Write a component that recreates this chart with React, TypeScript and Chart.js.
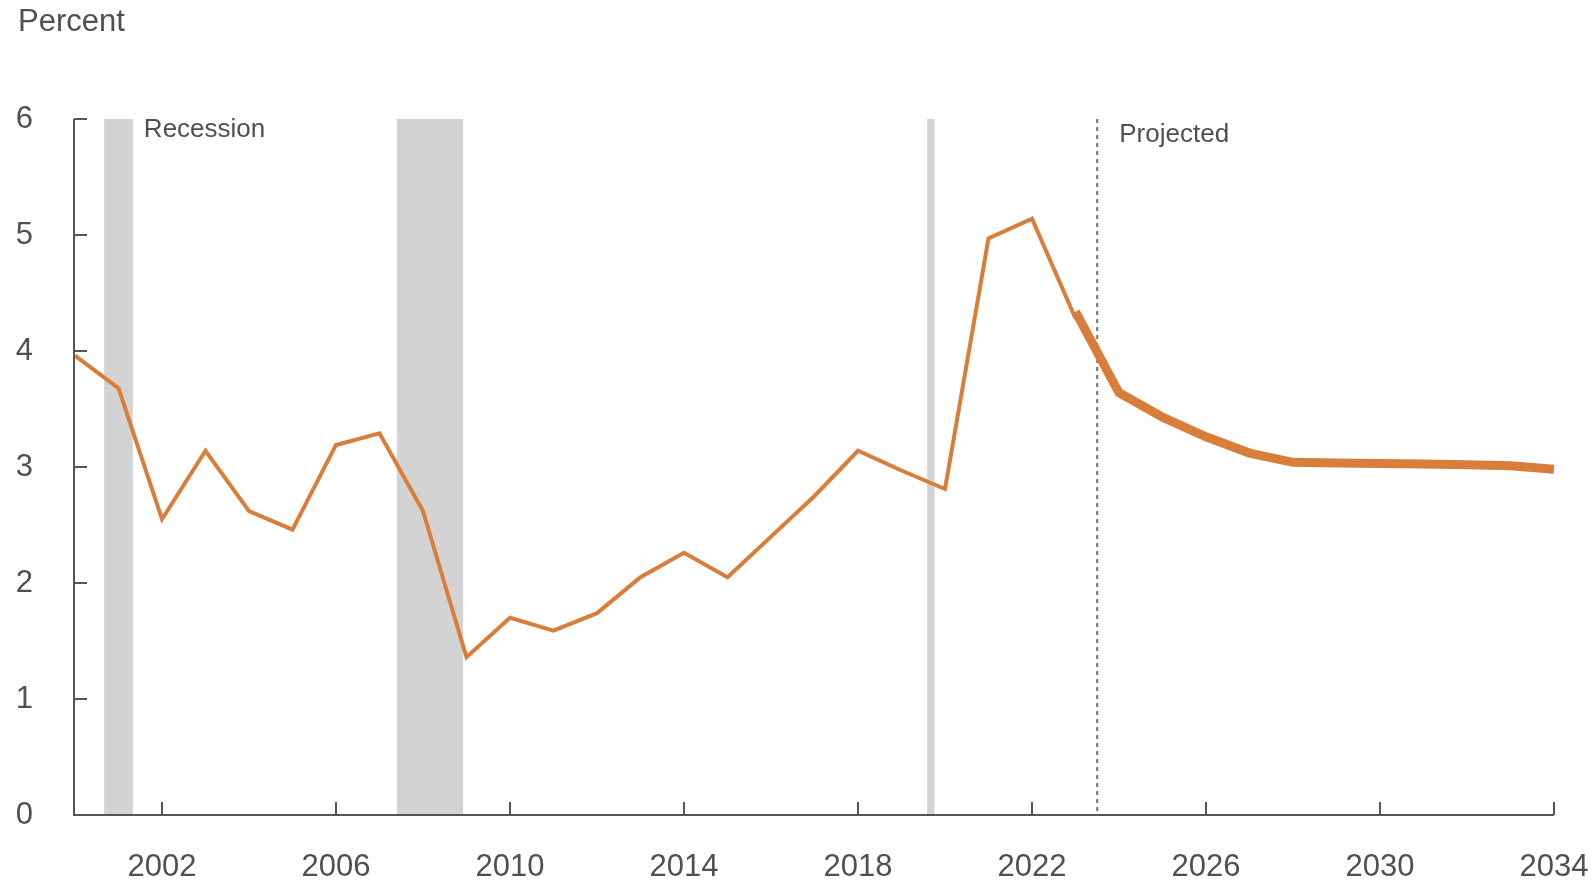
import React, { useEffect, useRef } from "react";
import { Chart, registerables } from "chart.js";

Chart.register(...registerables);

const histYears = [2000, 2001, 2002, 2003, 2004, 2005, 2006, 2007, 2008, 2009, 2010, 2011, 2012, 2013, 2014, 2015, 2016, 2017, 2018, 2019, 2020, 2021, 2022, 2023];
const histValues = [3.96, 3.68, 2.55, 3.14, 2.62, 2.46, 3.19, 3.29, 2.62, 1.36, 1.7, 1.59, 1.74, 2.05, 2.26, 2.05, 2.4, 2.75, 3.14, 2.97, 2.81, 4.97, 5.14, 4.28];
const projYears = [2023, 2024, 2025, 2026, 2027, 2028, 2029, 2030, 2031, 2032, 2033, 2034];
const projValues = [4.34, 3.64, 3.43, 3.26, 3.12, 3.04, 3.035, 3.03, 3.025, 3.02, 3.01, 2.98];
const xTicks = [2002, 2006, 2010, 2014, 2018, 2022, 2026, 2030, 2034];
const yTicks = [0, 1, 2, 3, 4, 5, 6];
const recessions: [number, number][] = [
  [2000.67, 2001.33],
  [2007.4, 2008.92],
  [2019.59, 2019.76],
];
const projectedStart = 2023.5;

const ORANGE = "#d97d3a";
const TEXT = "#505050";
const AXIS = "#555555";
const FONT = "'Liberation Sans', Arial, sans-serif";

export default function App() {
  const ref = useRef<HTMLCanvasElement | null>(null);

  useEffect(() => {
    const canvas = ref.current;
    if (!canvas) return;

    const decor = {
      id: "decor",
      beforeDatasetsDraw(chart: any) {
        const { ctx, chartArea, scales } = chart;
        const xs = scales.x;
        const top = chartArea.top;
        const bottom = chartArea.bottom;
        ctx.save();
        ctx.fillStyle = "#d3d3d3";
        for (const [a, b] of recessions) {
          const x1 = xs.getPixelForValue(a);
          const x2 = xs.getPixelForValue(b);
          ctx.fillRect(x1, top, x2 - x1, bottom - top);
        }
        // projected dashed line
        const px = xs.getPixelForValue(projectedStart);
        ctx.strokeStyle = "#6e6e6e";
        ctx.lineWidth = 2;
        ctx.setLineDash([4, 4]);
        ctx.beginPath();
        ctx.moveTo(px, top);
        ctx.lineTo(px, bottom);
        ctx.stroke();
        ctx.setLineDash([]);
        // labels
        ctx.fillStyle = TEXT;
        ctx.font = `26px ${FONT}`;
        ctx.textBaseline = "alphabetic";
        ctx.textAlign = "left";
        ctx.fillText("Recession", xs.getPixelForValue(recessions[0][1]) + 11, top + 18);
        ctx.fillText("Projected", px + 22, top + 23);
        ctx.font = `31px ${FONT}`;
        ctx.fillText("Percent", 18, 31);
        ctx.restore();
      },
      afterDraw(chart: any) {
        const { ctx, chartArea, scales } = chart;
        const xs = scales.x;
        const ys = scales.y;
        const left = chartArea.left - 1;
        const bottom = chartArea.bottom;
        ctx.save();
        ctx.strokeStyle = AXIS;
        ctx.lineWidth = 2;
        ctx.beginPath();
        ctx.moveTo(left, chartArea.top);
        ctx.lineTo(left, bottom);
        ctx.lineTo(chartArea.right, bottom);
        ctx.stroke();
        ctx.beginPath();
        for (const v of yTicks) {
          const y = ys.getPixelForValue(v);
          ctx.moveTo(left, y);
          ctx.lineTo(left + 13, y);
        }
        for (const v of xTicks) {
          const x = xs.getPixelForValue(v);
          ctx.moveTo(x, bottom);
          ctx.lineTo(x, bottom - 13);
        }
        ctx.stroke();
        ctx.restore();
      },
    };

    const chart = new Chart(canvas, {
      type: "line",
      data: {
        datasets: [
          {
            data: histYears.map((x, i) => ({ x, y: histValues[i] })),
            borderColor: ORANGE,
            borderWidth: 4,
            pointRadius: 0,
            borderJoinStyle: "miter",
            borderCapStyle: "butt",
            tension: 0,
          },
          {
            data: projYears.map((x, i) => ({ x, y: projValues[i] })),
            borderColor: ORANGE,
            borderWidth: 9,
            pointRadius: 0,
            borderJoinStyle: "miter",
            borderCapStyle: "butt",
            tension: 0,
          },
        ],
      },
      options: {
        animation: false,
        responsive: false,
        maintainAspectRatio: false,
        layout: { padding: { top: 119, right: 0, left: 0, bottom: 0 } },
        plugins: { legend: { display: false }, tooltip: { enabled: false } },
        scales: {
          x: {
            type: "linear",
            min: 2000,
            max: 2034,
            afterBuildTicks: (s: any) => {
              s.ticks = xTicks.map((v) => ({ value: v }));
            },
            afterFit: (s: any) => {
              s.height = 70;
              s.paddingRight = 39;
              s.paddingLeft = 0;
            },
            grid: { display: false, drawTicks: false },
            border: { display: false },
            ticks: {
              color: TEXT,
              font: { family: FONT, size: 31 },
              padding: 34,
              maxRotation: 0,
              autoSkip: false,
              callback: (v: any) => String(v),
            },
          },
          y: {
            min: 0,
            max: 6,
            afterBuildTicks: (s: any) => {
              s.ticks = yTicks.map((v) => ({ value: v }));
            },
            afterFit: (s: any) => {
              s.width = 75;
            },
            grid: { display: false, drawTicks: false },
            border: { display: false },
            ticks: {
              color: TEXT,
              font: { family: FONT, size: 31 },
              padding: 42,
              callback: (v: any) => String(v),
            },
          },
        },
      },
      plugins: [decor],
    });
    return () => chart.destroy();
  }, []);

  return (
    <div style={{ position: "fixed", left: 0, top: 0, width: 1593, height: 885, background: "#fff" }}>
      <canvas ref={ref} width={1593} height={885} style={{ width: 1593, height: 885 }} />
    </div>
  );
}
